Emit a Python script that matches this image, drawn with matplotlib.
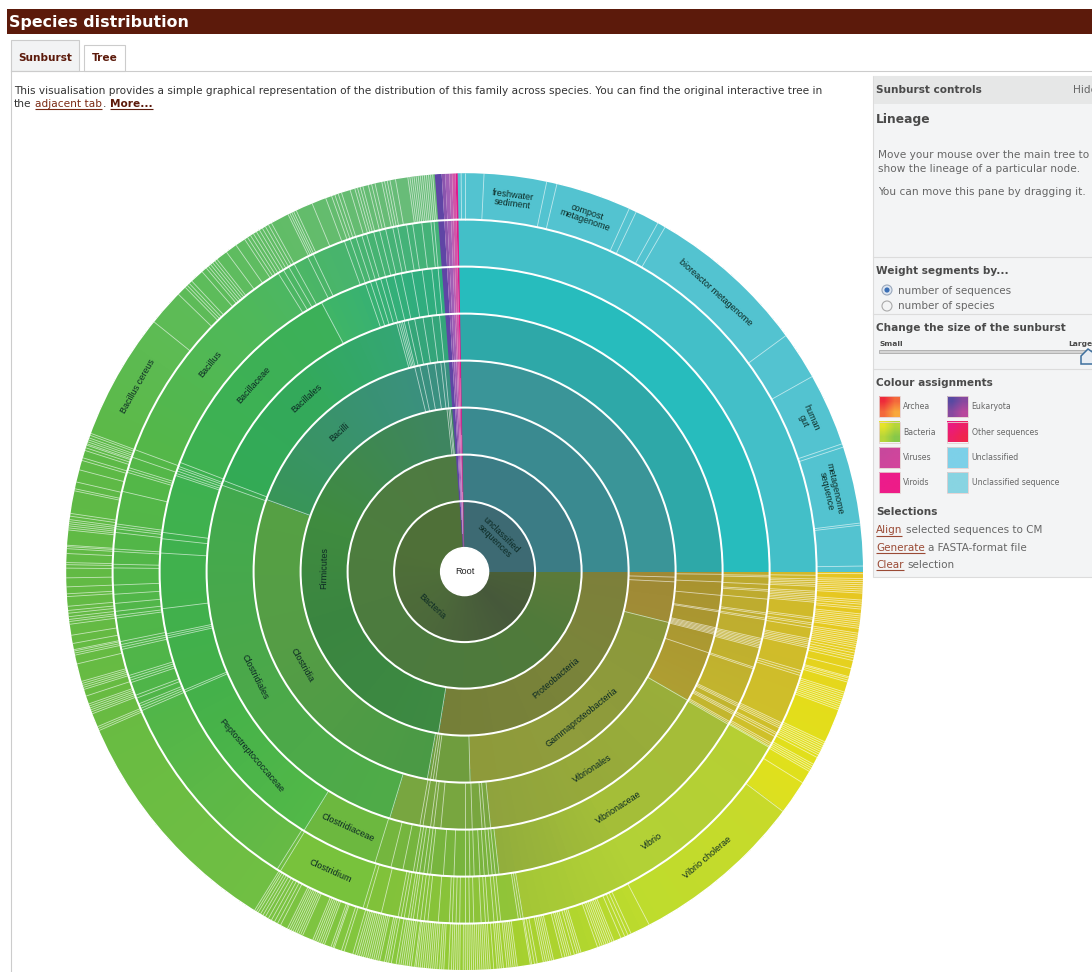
'''plot.py draws the species distribution sunburst page as one figure.
'''

import numpy as np
import matplotlib
matplotlib.use('Agg')
import matplotlib.pyplot as plt
from matplotlib.collections import LineCollection, PatchCollection
from matplotlib.colors import to_rgb
from matplotlib.patches import Circle, Polygon, Rectangle, Wedge

# ring radii, centre outwards
radii = [24, 70.5, 117, 164, 211, 258, 305, 352, 398.5]

# segment edges in degrees clockwise from north, Bacteria side
ring1 = [90, 355.7]
ring2 = [90, 355.7]
ring3 = [90, 189.2, 353.8, 354.5, 355, 355.7]
ring4 = [90, 91.5, 92.8, 104, 178.5, 187.9, 188.6, 189.3, 190.2, 290, 346.3, 347.7, 349.8,
         351.9, 353.5, 354.5, 355.7]
ring5 = [90, 90.6, 92.3, 95.3, 98.7, 99, 102.6, 102.9, 103.2, 103.5, 103.8, 104.1, 108.4, 120,
         174.2, 175.4, 176.1, 178.3, 180, 185.3, 186.9, 187.6, 189.3, 190, 196.9, 289.6, 290.7,
         344.7, 345.2, 345.6, 346, 346.4, 347.3, 348.8, 350.7, 352.7, 354.4, 355.7]
ring6 = [90, 90.7, 91, 92.4, 93.4, 93.7, 95.2, 97.8, 98.1, 98.8, 99.1, 102.7, 103, 103.3, 103.6,
         103.9, 104.2, 104.5, 108.3, 108.6, 115.7, 116, 116.3, 117.4, 117.7, 118, 119.5, 119.8,
         120.1, 173.5, 174.2, 174.8, 175.5, 176.3, 177.1, 178.2, 179, 180, 182, 184, 186.4, 187,
         187.7, 188.5, 189.1, 189.7, 191.7, 194, 197.1, 211.8, 246.7, 247.1, 257.4, 257.8, 258.2,
         263, 273.5, 276.2, 277.4, 288.4, 288.8, 289.3, 289.8, 290.2, 291, 332, 341, 342, 343,
         344, 345, 346.6, 348, 350, 352, 353.8, 355, 355.7]
ring7 = [90, 90.6, 91.2, 91.5, 91.8, 92.1, 92.4, 93.2, 93.5, 93.8, 94.1, 94.4, 94.7, 95, 97.5,
         97.8, 98.4, 98.7, 99.2, 101, 101.3, 101.6, 101.9, 102.2, 102.5, 106.4, 106.8, 107.2,
         115.5, 115.8, 116.1, 116.4, 117.3, 117.6, 118, 119.2, 119.5, 119.8, 120, 170.4, 170.8,
         171.2, 174.1, 174.6, 175.2, 176.1, 176.6, 177.3, 178.5, 179.2, 180, 180.8, 181.4, 182,
         182.5, 184.3, 186, 186.6, 187.2, 187.8, 188.4, 188.8, 189.2, 189.9, 190.4, 190.9, 193.7,
         196.2, 196.8, 211.6, 212.2, 246.7, 247.1, 247.5, 247.9, 248.9, 249.4, 251.6, 252, 252.4,
         252.8, 257.2, 257.6, 258, 258.5, 262.4, 262.8, 263.5, 264.8, 266.3, 267.8, 270.6, 271.2,
         273.3, 273.7, 276.4, 277, 277.4, 277.8, 283.2, 286.4, 286.8, 287.2, 289, 290.3, 328, 329,
         330, 331, 333.5, 334.5, 340, 341, 342, 343, 343.8, 345, 346, 347, 348.2, 349, 350.5,
         351.5, 353, 354.5, 355, 355.7]
ring8 = [90, 90.3, 91, 91.3, 91.6, 91.9, 92.2, 92.5, 92.8, 93.1, 94.1, 94.4, 94.7, 95.1, 95.4,
         96.1, 96.4, 96.7, 97, 97.3, 97.6, 97.9, 98.2, 98.9, 99.2, 99.5, 99.8, 100.1, 100.4, 100.7,
         101, 101.4, 101.8, 102.2, 102.5, 102.9, 104.1, 105.3, 105.5, 105.8, 106.1, 107.6, 107.9,
         108.2, 108.5, 108.8, 109.1, 109.4, 109.7, 110, 110.3, 115.3, 115.6, 115.9, 116.2, 116.5,
         116.8, 117.1, 117.4, 117.8, 118.9, 119.2, 119.5, 119.8, 120.1, 122, 127, 152.4, 155.3,
         155.8, 156.3, 156.9, 158, 158.3, 158.6, 158.9, 159.2, 159.5, 159.8, 160.1, 160.5, 163,
         163.3, 163.6, 164, 164.5, 164.8, 165.1, 165.4, 165.8, 167.1, 167.4, 167.7, 168, 168.3,
         168.6, 169.5, 169.9, 170.3, 170.5, 172.4, 172.7, 173, 173.3, 173.6, 173.9, 174.4, 174.7,
         175, 175.3, 175.8, 176.3, 176.6, 176.9, 177.2, 177.5, 177.8, 178.1, 178.4, 178.7, 179,
         179.3, 179.6, 179.9, 180.2, 180.7, 181, 181.3, 181.6, 181.9, 182.3, 183, 183.3, 183.6,
         184, 184.3, 184.6, 184.9, 185.2, 185.5, 185.8, 186.1, 186.4, 186.7, 187, 187.2, 187.7,
         188, 188.3, 188.6, 188.9, 189.2, 189.5, 189.9, 190.6, 191, 191.3, 191.6, 192.3, 192.6,
         192.9, 193.2, 193.5, 193.8, 194.1, 194.4, 194.7, 195, 195.3, 195.6, 195.9, 196.3, 197.6,
         198, 199.1, 199.3, 199.6, 200.6, 200.9, 201.2, 201.5, 201.8, 202.1, 202.4, 204, 204.3,
         204.6, 204.9, 205.2, 205.5, 205.8, 206.1, 206.4, 207.5, 208, 208.5, 209, 209.5, 210,
         210.4, 210.8, 211.2, 211.5, 211.8, 246.5, 246.8, 247.1, 249.1, 249.4, 249.7, 250, 250.3,
         250.6, 251.8, 252.8, 253.1, 253.4, 253.7, 254, 256.6, 257.9, 258.2, 258.5, 258.7, 259.6,
         260.8, 262.4, 262.8, 263.1, 263.5, 264, 264.4, 265, 266.4, 266.8, 267.8, 269.1, 270.5,
         271, 271.3, 272.6, 273.3, 273.6, 273.8, 276, 276.3, 276.6, 276.9, 277.2, 277.5, 278,
         278.4, 281.7, 282, 283, 284.8, 286.2, 286.6, 287.7, 288.1, 288.5, 288.7, 289, 289.3,
         289.6, 290, 290.3, 308.8, 314.1, 315.5, 315.9, 316.3, 316.8, 318.8, 319.6, 320, 320.4,
         320.8, 321.2, 321.6, 323.3, 325, 326.5, 327, 327.5, 328, 328.5, 329, 329.5, 330, 330.5,
         331, 333.7, 334, 334.3, 334.6, 335, 337.5, 339.6, 340.5, 341, 341.5, 342, 343.3, 344,
         344.4, 344.8, 345.2, 346, 346.5, 347, 348, 348.4, 348.8, 349.2, 350, 351.8, 352.1, 352.4,
         352.7, 353, 353.3, 353.6, 353.9, 354.2, 354.5, 354.8, 355.1, 355.4, 355.7]
bacteria_rings = [ring1, ring2, ring3, ring4, ring5, ring6, ring7, ring8]

# Unclassified side, only the outer ring is split up
unclassified_outer = [-1, -0.5, 0, 2.8, 11.9, 13.4, 24.4, 25.5, 29, 30.2, 53.7, 60.7, 71.3, 71.8,
                      83, 83.3, 89.2, 90]
unclassified_inner = [-1, 90]
teal_by_ring = ['#3d6a73', '#3b7c85', '#3a8a90', '#3a9598', '#2ea8a8', '#27bcbd', '#43bfc8', '#53c3d0']

# thin Eukaryota / Viruses / Viroids strip next to north
strip_edges = [355.7, 356.7, 357.2, 357.8, 358.2, 358.7, 359]
strip_colours = ['#5f45a5', '#8a55ae', '#a05fb6', '#bb5fb2', '#d056a8', '#e0188c']

# colour samples along Bacteria, one pair of lists per ring
angles1 = [90, 135, 215, 290, 350]
colours1 = ['#4a5f38', '#46583a', '#4c683a', '#4f7038', '#4f7038']
angles2 = [90, 125, 215, 290, 350]
colours2 = ['#5c7a3a', '#507a3a', '#4c7a3e', '#4d7d3e', '#4e7a42']
angles3 = [90, 125, 188.7, 189.7, 250, 290, 350]
colours3 = ['#7d7f3a', '#7a843a', '#757f38', '#3d8a42', '#3a8540', '#3f8b3f', '#3e8560']
angles4 = [90, 103.7, 104.3, 150, 178.2, 178.8, 189.9, 190.5, 250, 289.7, 290.3, 350]
colours4 = ['#9f8935', '#a08c36', '#8b983a', '#8f9c3c', '#8e9a3a', '#6f9d3e', '#6f9d3e', '#4a9a45',
            '#559d45', '#55a044', '#389558', '#3a9080']
angles5 = [90, 119.7, 120.3, 150, 173.9, 174.5, 196.6, 197.2, 250, 289.5, 290.8, 320, 350]
colours5 = ['#a8922f', '#ae9e32', '#99ae3a', '#96a93a', '#8fa33d', '#78a63f', '#78a640', '#4fab48',
            '#4aa84a', '#42a94e', '#33aa55', '#33a95b', '#34a57a']
angles6 = [90, 119.8, 120.4, 150, 173.2, 173.8, 196.8, 197.4, 211.5, 212.1, 250, 290, 331.7, 332.3, 350]
colours6 = ['#bda92f', '#c3b62e', '#a5bd38', '#a4be38', '#92ae3c', '#7ab33d', '#74b63e', '#6cb83f',
            '#6cb83f', '#52b848', '#42b04a', '#3eb150', '#3cb059', '#3fb566', '#30ad7e']
angles7 = [90, 119.7, 120.3, 150, 170.1, 170.7, 196.5, 197.1, 211.3, 212.5, 250, 290, 320, 350]
colours7 = ['#d0b82a', '#cfc02a', '#b6cf33', '#b2d136', '#a4c636', '#92c438', '#7fc23a', '#78c23c',
            '#78c23c', '#66ba45', '#4fb549', '#54b748', '#4fb85a', '#44b278']
angles8 = [90, 100, 110, 122, 126.7, 127.3, 152, 172, 190, 211.5, 212, 250, 290, 320, 350]
colours8 = ['#e6c522', '#e6cb20', '#e4dc1a', '#dfe01c', '#dce020', '#c8da2a', '#bedc2d', '#a5d02f',
            '#88c83c', '#78c242', '#70bf43', '#68bb42', '#5cb947', '#5dbc5c', '#68bc78']
ring_angles = [angles1, angles2, angles3, angles4, angles5, angles6, angles7, angles8]
ring_colours = [colours1, colours2, colours3, colours4, colours5, colours6, colours7, colours8]

# labels: text, ring number, first edge, last edge
label_text = ['Bacteria', 'unclassified\nsequences', 'Firmicutes', 'Proteobacteria', 'Clostridia',
              'Bacilli', 'Gammaproteobacteria', 'Clostridiales', 'Bacillales', 'Vibrionales',
              'Peptostreptococcaceae', 'Bacillaceae', 'Clostridiaceae', 'Vibrionaceae',
              'Clostridium', 'Bacillus', 'Vibrio', 'Vibrio cholerae', 'Bacillus cereus',
              'freshwater\nsediment', 'compost\nmetagenome', 'bioreactor metagenome', 'human\ngut',
              'metagenome\nsequence']
label_ring = [1, 1, 3, 3, 4, 4, 4, 5, 5, 5, 6, 6, 6, 6, 7, 7, 7, 8, 8, 8, 8, 8, 8, 8]
label_start = [90, -1, 189.2, 90, 190.2, 290, 104, 196.9, 290.7, 120, 211.8, 291, 197.1, 120.1,
               196.8, 290.3, 120, 127, 290.3, 2.8, 13.4, 30.2, 60.7, 71.8]
label_end = [355.7, 90, 353.8, 189.2, 290, 346.3, 178.5, 289.6, 344.7, 174.2, 246.7, 332, 211.8,
             173.5, 211.6, 328, 170.4, 152.4, 308.8, 11.9, 24.4, 53.7, 71.3, 83]

# colour assignment legend
swatch_names = ['Archea', 'Bacteria', 'Viruses', 'Viroids', 'Eukaryota', 'Other sequences',
                'Unclassified', 'Unclassified sequence']
swatch_from = ['#ee2a3a', '#e6e42a', '#c8489c', '#ec1c8c', '#574aa2', '#ea1a80', '#7dd0e8', '#88d4e2']
swatch_to = ['#f9a83c', '#86c84a', '#d2459c', '#ee1c88', '#b8489c', '#f0264c', '#7dd0e8', '#88d4e2']

CX, CY = 464.6, 571.6
DARK = '#5c1a0b'
LINK = '#7a2a14'
GREY = '#666666'
HEAD = '#4a4a4a'
SANS = 'DejaVu Sans'


def bacteria_colour(ring, angle):
    rgb = np.array([to_rgb(c) for c in ring_colours[ring]])
    return [np.interp(angle, ring_angles[ring], rgb[:, i]) for i in range(3)]


def add_segment(patches, colours, ring, a0, a1, colour=None):
    '''a segment is cut in slices so the colour can drift along it'''
    n = max(1, int(np.ceil((a1 - a0) / 1.5)))
    cuts = np.linspace(a0, a1, n + 1)
    for s0, s1 in zip(cuts[:-1], cuts[1:]):
        patches.append(Wedge((CX, CY), radii[ring + 1], s0 - 90, s1 - 90,
                             width=radii[ring + 1] - radii[ring]))
        colours.append(colour if colour is not None else bacteria_colour(ring, (s0 + s1) / 2))


def polar(r, a):
    t = np.radians(a)
    return CX + r * np.sin(t), CY - r * np.cos(t)


def runs(ax, fig, x, y, parts, size):
    '''text in several styles on one line, parts are (text, colour, bold, underline, gap after)'''
    rend = fig.canvas.get_renderer()
    for txt, col, bold, under, gap in parts:
        t = ax.text(x, y, txt, color=col, fontsize=size, family=SANS, va='center', ha='left',
                    fontweight='bold' if bold else 'normal')
        box = t.get_window_extent(rend)
        if under:
            ax.plot([x, x + box.width], [y + 5.5, y + 5.5], color=col, lw=0.8, solid_capstyle='butt')
        x += box.width + gap


def sunburst(ax):
    patches, colours, lines = [], [], []
    strip, strip_cols = [], []
    for ring, edges in enumerate(bacteria_rings):
        for a0, a1 in zip(edges[:-1], edges[1:]):
            add_segment(patches, colours, ring, a0, a1)
        for a in edges[1:-1]:
            lines.append([polar(radii[ring], a), polar(radii[ring + 1], a)])

        edges = unclassified_outer if ring == 7 else unclassified_inner
        for a0, a1 in zip(edges[:-1], edges[1:]):
            add_segment(patches, colours, ring, a0, a1, to_rgb(teal_by_ring[ring]))
        for a in edges[1:-1]:
            lines.append([polar(radii[ring], a), polar(radii[ring + 1], a)])

        for a0, a1, c in zip(strip_edges[:-1], strip_edges[1:], strip_colours):
            add_segment(strip, strip_cols, ring, a0, a1, to_rgb(c))

    # no antialiasing on the slices, otherwise every seam shows as a streak
    ax.add_collection(PatchCollection(patches, facecolor=colours, edgecolor=colours, linewidth=0.3,
                                      antialiased=False))
    ax.add_collection(PatchCollection(strip, facecolor=strip_cols, edgecolor='none', linewidth=0))
    ax.add_collection(LineCollection(lines, colors=[(1, 1, 1, 0.62)], linewidths=0.6))

    for r in radii[1:-1]:
        ax.add_patch(Circle((CX, CY), r, fill=False, edgecolor='white', lw=1.45))
    ax.add_patch(Circle((CX, CY), radii[-1] + 0.6, fill=False, edgecolor='white', lw=1))
    ax.add_patch(Circle((CX, CY), radii[0], facecolor='white', edgecolor='white', lw=1))
    ax.text(CX, CY, 'Root', fontsize=6.6, family='Liberation Sans', ha='center', va='center', color='#222222')

    for txt, ring, a0, a1 in zip(label_text, label_ring, label_start, label_end):
        mid = (a0 + a1) / 2
        x, y = polar((radii[ring - 1] + radii[ring]) / 2, mid)
        rot = (-mid + 90) % 180 - 90
        ax.text(x, y, txt, fontsize=6.5, family='Liberation Sans', ha='center', va='center', rotation=rot,
                rotation_mode='anchor', color='#0c2a24', linespacing=0.95)


def page(ax, fig):
    ax.add_patch(Rectangle((7, 9), 1085, 25, color=DARK, lw=0))
    ax.text(9, 22, 'Species distribution', color='white', fontsize=11.45, fontweight='bold', family=SANS, va='center')

    ax.add_patch(Rectangle((11, 40), 68, 31, facecolor='#f2f3f4', edgecolor='#cccccc', lw=0.8))
    ax.add_patch(Rectangle((84, 45), 41, 26, facecolor='white', edgecolor='#cccccc', lw=0.8))
    ax.plot([11, 1092], [71, 71], color='#cccccc', lw=0.8)
    ax.plot([11, 11], [71, 972], color='#cccccc', lw=0.8)
    ax.text(45, 58, 'Sunburst', color=DARK, fontsize=7.6, fontweight='bold', family=SANS, ha='center', va='center')
    ax.text(104.5, 58, 'Tree', color=DARK, fontsize=7.6, fontweight='bold', family=SANS, ha='center', va='center')

    ax.text(14, 91, 'This visualisation provides a simple graphical representation of the distribution of '
            'this family across species. You can find the original interactive tree in',
            color='#333333', fontsize=7.54, family=SANS, va='center')
    runs(ax, fig, 14, 104, [('the', '#333333', False, False, 3.5), ('adjacent tab', LINK, False, True, 0.5),
                            ('.', '#333333', False, False, 4), ('More...', DARK, True, True, 0)], 7.54)

    # controls pane
    ax.add_patch(Rectangle((873, 76), 225, 501, facecolor='#f3f4f5', edgecolor='#dcdcdc', lw=0.8))
    ax.add_patch(Rectangle((873.5, 76.5), 225, 27.5, facecolor='#e6e7e7', lw=0))
    ax.text(876, 90, 'Sunburst controls', color=HEAD, fontsize=7.6, fontweight='bold', family=SANS, va='center')
    ax.text(1073, 90, 'Hide', color=GREY, fontsize=7.6, family=SANS, va='center')
    ax.text(876, 119, 'Lineage', color=HEAD, fontsize=8.8, fontweight='bold', family=SANS, va='center')
    for y, txt in zip([155, 168.5, 192], ['Move your mouse over the main tree to', 'show the lineage of a particular node.',
                                          'You can move this pane by dragging it.']):
        ax.text(878, y, txt, color=GREY, fontsize=7.6, family=SANS, va='center')
    for y in [257.5, 314.5, 369.5]:
        ax.plot([873, 1092], [y, y], color='#dcdcdc', lw=0.8)

    ax.text(876, 271, 'Weight segments by...', color=HEAD, fontsize=7.6, fontweight='bold', family=SANS, va='center')
    ax.add_patch(Circle((887, 290), 5, facecolor='#dfe7f2', edgecolor='#9aa8bc', lw=0.8))
    ax.add_patch(Circle((887, 290), 2.6, facecolor='#3b6fb5', lw=0))
    ax.add_patch(Circle((887, 306), 5, facecolor='#f3f4f5', edgecolor='#aaaaaa', lw=0.8))
    ax.text(898, 290.5, 'number of sequences', color=GREY, fontsize=7.5, family=SANS, va='center')
    ax.text(898, 306, 'number of species', color=GREY, fontsize=7.5, family=SANS, va='center')

    ax.text(876, 328, 'Change the size of the sunburst', color=HEAD, fontsize=7.6, fontweight='bold', family=SANS, va='center')
    ax.text(879, 344, 'Small', color=HEAD, fontsize=5.4, fontweight='bold', family=SANS, va='center')
    ax.text(1068, 344, 'Large', color=HEAD, fontsize=5.4, fontweight='bold', family=SANS, va='center')
    ax.add_patch(Rectangle((879, 350), 212, 3, facecolor='#d4d4d4', edgecolor='#aaaaaa', lw=0.6))
    ax.add_patch(Polygon([(1081, 364), (1081, 356), (1088, 349), (1098, 356), (1098, 364)],
                         facecolor='#e8edf3', edgecolor='#3d6f9e', lw=1.1))

    ax.text(876, 383, 'Colour assignments', color=HEAD, fontsize=7.6, fontweight='bold', family=SANS, va='center')
    cells = [(878.5, 396), (878.5, 421.5), (878.5, 447), (878.5, 472), (947, 396), (947, 421.5), (947, 447), (947, 472)]
    for (x, y), name, c0, c1 in zip(cells, swatch_names, swatch_from, swatch_to):
        c0, c1 = np.array(to_rgb(c0)), np.array(to_rgb(c1))
        grid = np.array([[c0, (c0 + c1) / 2], [(c0 + c1) / 2, c1]])
        ax.imshow(grid, extent=(x, x + 21, y + 21, y), interpolation='bilinear', aspect='auto', zorder=3)
        ax.add_patch(Rectangle((x, y), 21, 21, fill=False, edgecolor='#e4cfcf', lw=0.6, zorder=4))
        ax.text(x + 24.5, y + 10.5, name, color=GREY, fontsize=5.6, family=SANS, va='center')

    ax.text(876, 512, 'Selections', color=HEAD, fontsize=7.6, fontweight='bold', family=SANS, va='center')
    runs(ax, fig, 876, 530, [('Align', '#9a4a35', False, True, 3.5), ('selected sequences to CM', GREY, False, False, 0)], 7.5)
    runs(ax, fig, 876, 547.5, [('Generate', '#9a4a35', False, True, 3.5), ('a FASTA-format file', GREY, False, False, 0)], 7.5)
    runs(ax, fig, 876, 564.5, [('Clear', '#9a4a35', False, True, 3.5), ('selection', GREY, False, False, 0)], 7.5)


if __name__ == "__main__":
    fig = plt.figure(figsize=(10.92, 9.72), dpi=100)
    ax = fig.add_axes([0, 0, 1, 1])
    ax.axis('off')
    sunburst(ax)
    page(ax, fig)
    ax.set_xlim(0, 1092)
    ax.set_ylim(972, 0)
    fig.savefig('out.png', dpi=100)
